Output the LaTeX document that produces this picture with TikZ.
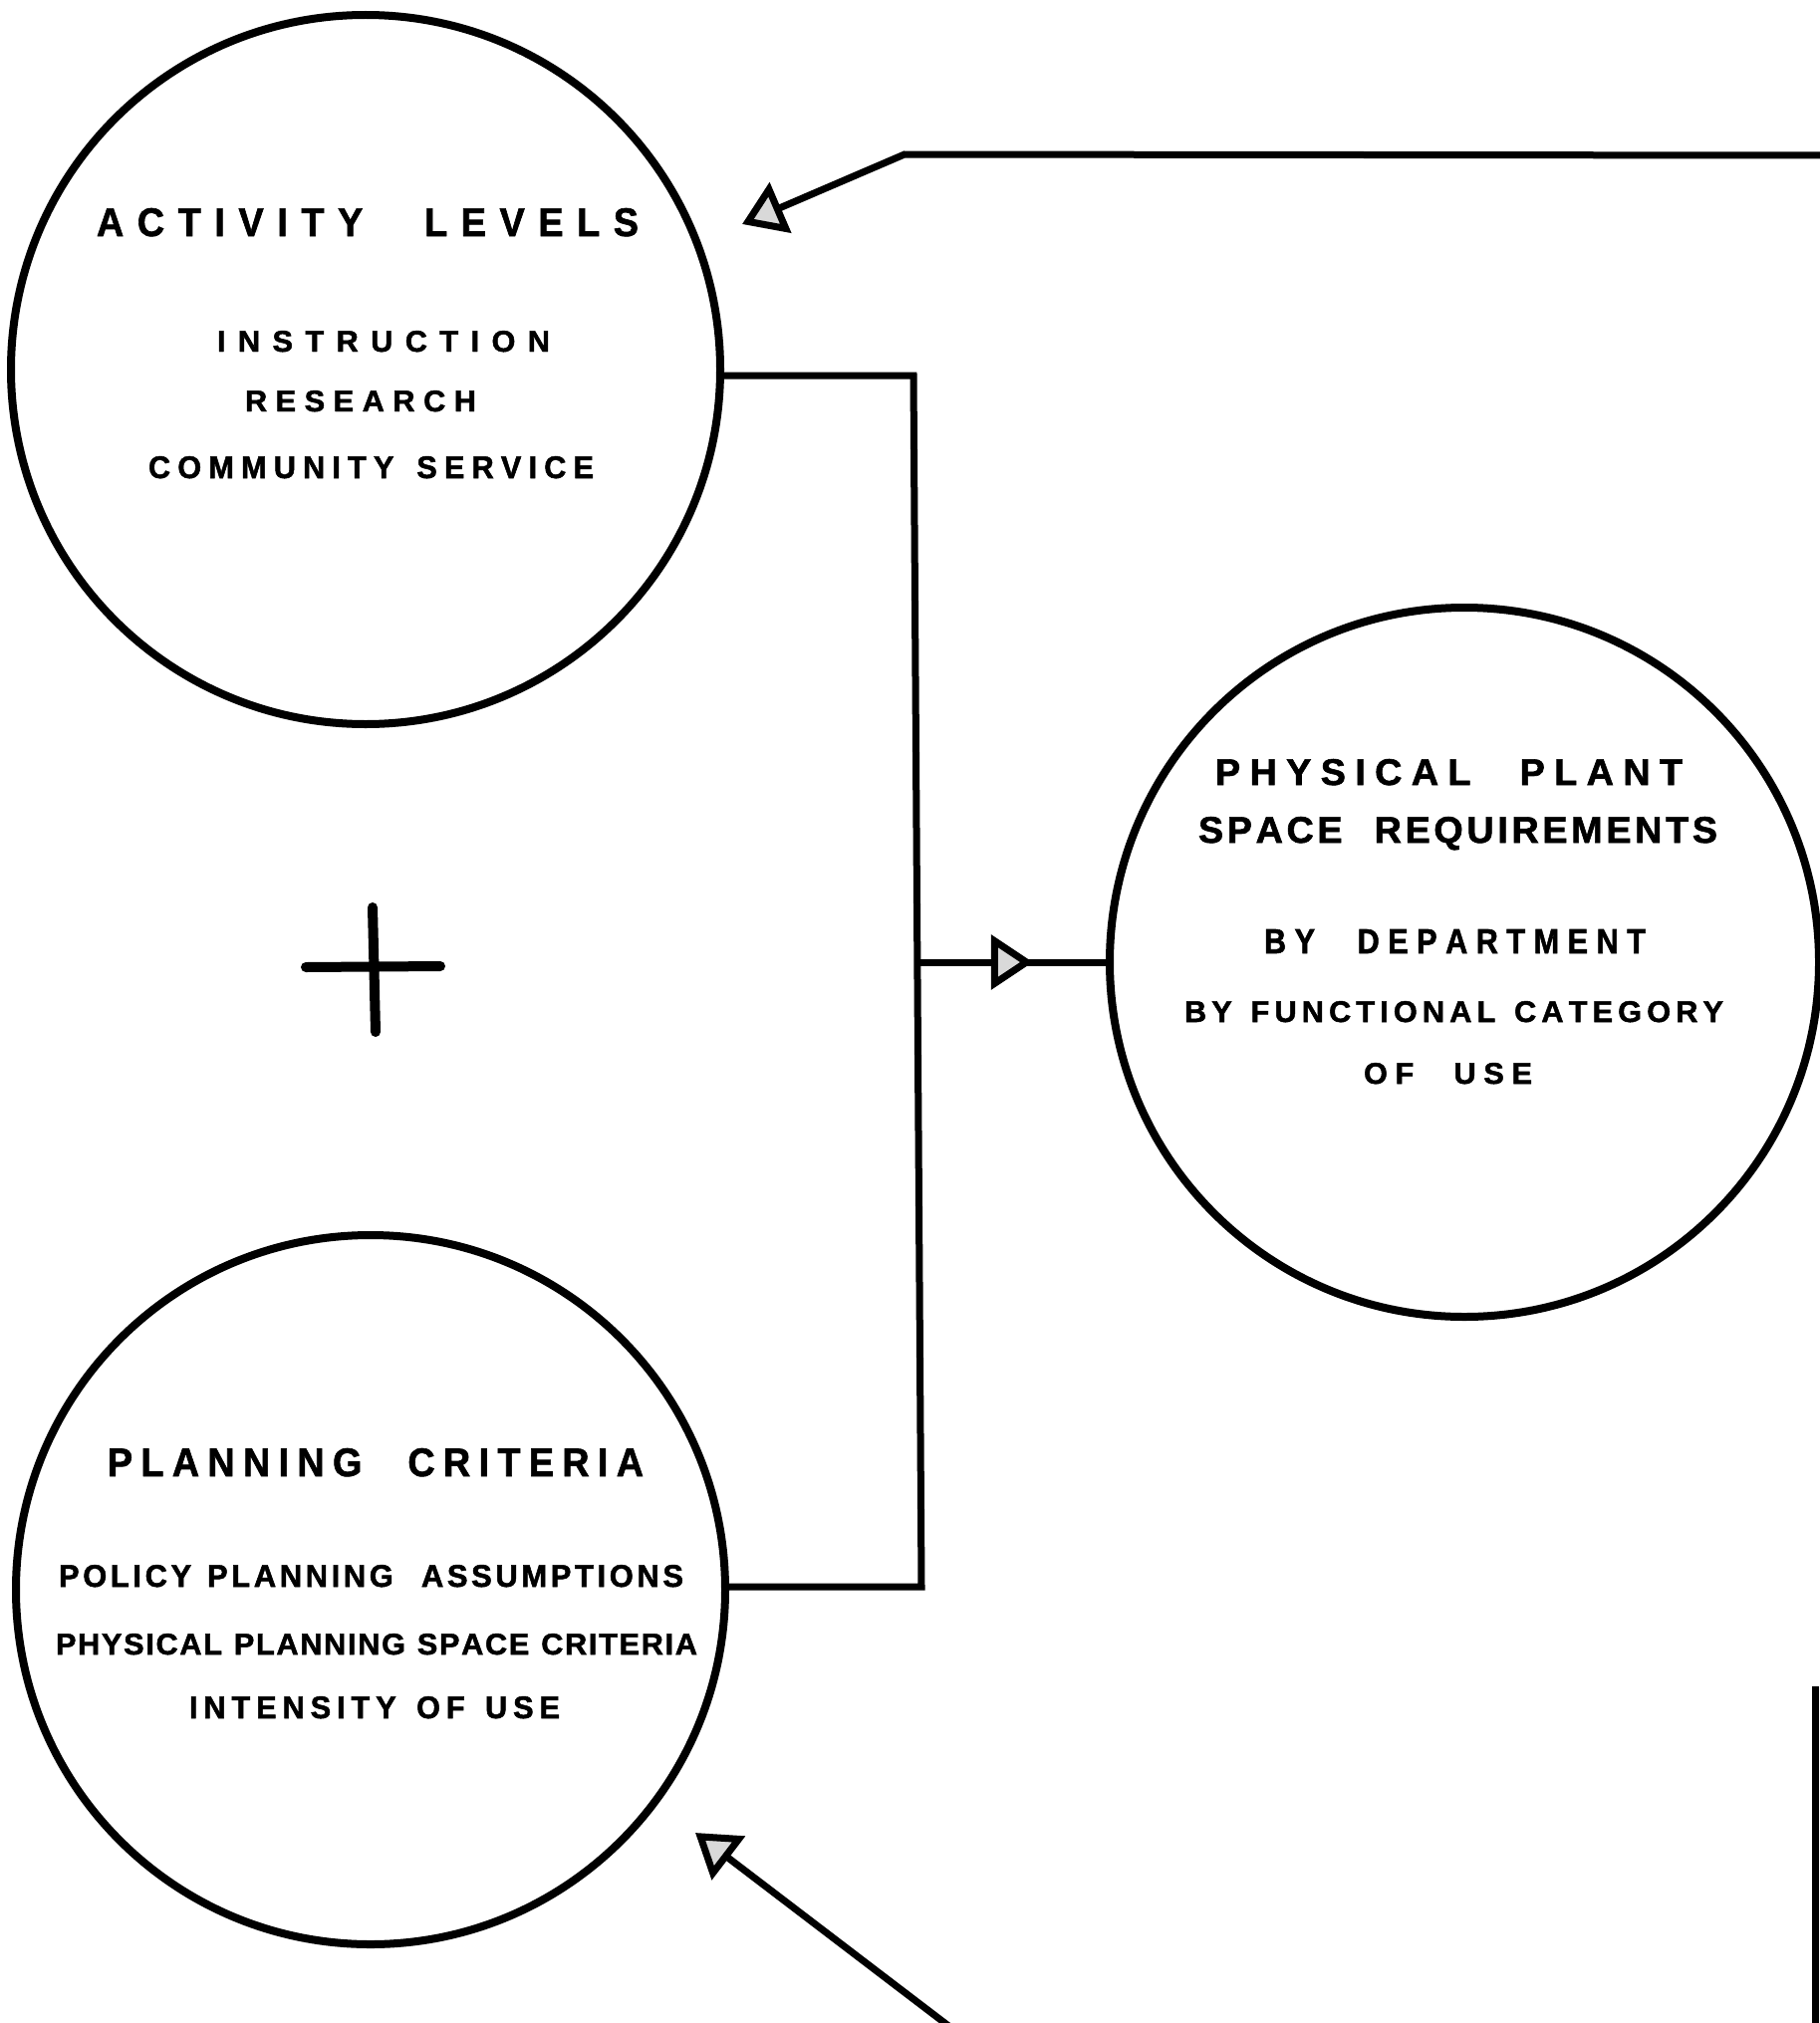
\documentclass[tikz,border=0pt]{standalone}
\usepackage{fontspec}
\setmainfont{Liberation Sans}
\usepackage{graphicx}
\usetikzlibrary{arrows.meta,decorations.markings}

\ExplSyntaxOn
\NewDocumentCommand\spaced{ m m }
 { \tl_map_inline:nn {#2} { ##1 \kern #1 } \kern -#1 }
\ExplSyntaxOff

\newcommand\fitT[4]{\resizebox{#1pt}{#2pt}{\fontsize{37.7pt}{40pt}\selectfont\bfseries\addfontfeatures{FakeBold=1.6}\spaced{#3pt}{#4}}}
\newcommand\fitS[4]{\resizebox{#1pt}{#2pt}{\fontsize{30.7pt}{33pt}\selectfont\bfseries\addfontfeatures{FakeBold=1.6}\spaced{#3pt}{#4}}}

\begin{document}
\begin{tikzpicture}[x=1pt,y=-1pt,
  ring/.style={circle, draw, line width=8pt, minimum size=712pt, inner sep=0pt, outer sep=0pt},
  wire/.style={line width=7pt, line join=miter},
  headtip/.tip={Triangle[length=42pt,width=54pt,fill=gray!30,line width=7pt]},
  tipped/.style={-{headtip}},
  lbl/.style={anchor=base, inner sep=0pt, outer sep=0pt}]
\useasboundingbox (0,0) rectangle (1826,2031);

% circles
\node[ring] (c1) at (367,371) {};
\node[ring] (c2) at (1470,966) {};
\node[ring] (c3) at (372,1596) {};

% texts circle 1
\node[lbl] (t1a) at (369,237) {\fitT{544}{28}{13.6}{ACTIVITY~~LEVELS}};
\node[lbl] (t1b) at (385,353) {\fitS{334}{21}{12.4}{INSTRUCTION}};
\node[lbl] (t1c) at (362,413) {\fitS{232}{21}{8.5}{RESEARCH}};
\node[lbl] (t1d) at (372.5,480) {\fitS{447}{22}{7.2}{COMMUNITY~SERVICE}};

% texts circle 2
\node[lbl] (t2a) at (1454.5,788) {\fitT{469}{26}{9.4}{PHYSICAL~~PLANT}};
\node[lbl] (t2b) at (1463.5,846) {\fitT{521}{26}{3.7}{SPACE~~REQUIREMENTS}};
\node[lbl] (t2c) at (1460.5,957) {\fitS{383}{24}{8.5}{BY~~DEPARTMENT}};
\node[lbl] (t2d) at (1459.5,1026) {\fitS{541}{21}{5.1}{BY~FUNCTIONAL~CATEGORY}};
\node[lbl] (t2e) at (1453.5,1088) {\fitS{169}{21}{7.7}{OF~~USE}};

% texts circle 3
\node[lbl] (t3a) at (377,1482) {\fitT{538}{28}{8.4}{PLANNING~~CRITERIA}};
\node[lbl] (t3b) at (372.5,1593) {\fitS{627}{22}{3.6}{POLICY~PLANNING~~ASSUMPTIONS}};
\node[lbl] (t3c) at (378,1661) {\fitS{644}{21}{1.7}{PHYSICAL~PLANNING~SPACE~CRITERIA}};
\node[lbl] (t3d) at (376,1725) {\fitS{372}{22}{5.9}{INTENSITY~OF~USE}};

% junction coordinates
\coordinate (j1) at (917,377);
\coordinate (j2) at (925,1593);
\coordinate (jm) at (921,966);

% bracket connector
\draw[wire] (c1.east |- j1) -- (j1) -- (j2) -- (c3.east |- j2);
% middle arrow into c2
\draw[wire, postaction={decorate}, decoration={markings,
  mark=at position 0.6 with {\arrow{headtip}}}] (jm) -- (c2.west);

% top feedback arrow
\coordinate (topR) at (1830,156);
\coordinate (topC) at (908,155);
\coordinate (topT) at (745,225);
\draw[wire, tipped] (topR) -- (topC) -- (topT);

% bottom feedback arrow
\coordinate (botS) at (955,2036);
\coordinate (botT) at (698,1840);
\draw[wire, tipped] (botS) -- (botT);

% right edge line
\coordinate (reT) at (1822,1693);
\coordinate (reB) at (1822,2036);
\draw[wire] (reT) -- (reB);

% plus sign
\coordinate (p1) at (307,971);
\coordinate (p2) at (442,970);
\coordinate (p3) at (374,911);
\coordinate (p4) at (377,1036);
\draw[line width=10pt, line cap=round] (p1) -- (p2) (p3) -- (p4);
\end{tikzpicture}
\end{document}
